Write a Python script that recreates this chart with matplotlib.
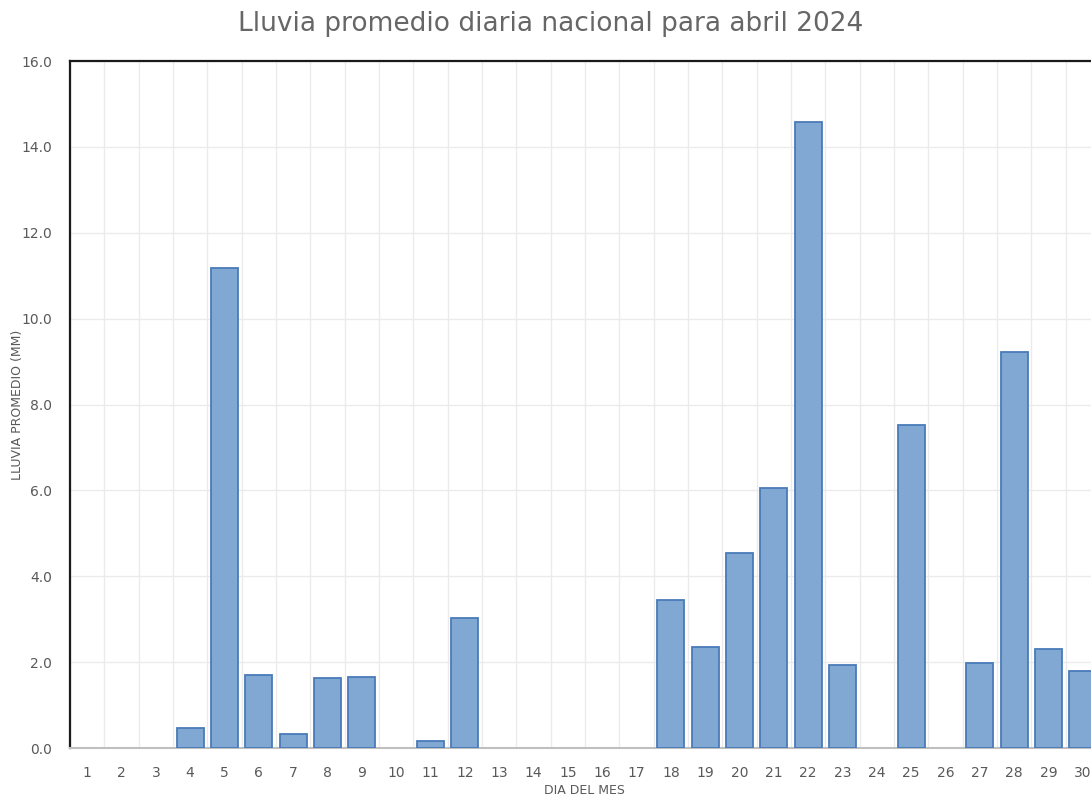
import matplotlib
matplotlib.use("Agg")
import matplotlib.pyplot as plt
from matplotlib.ticker import FormatStrFormatter, MultipleLocator

days = list(range(1, 31))
rain_mm = [0, 0, 0, 0.47, 11.18, 1.70, 0.33, 1.64, 1.66, 0,
           0.16, 3.03, 0, 0, 0, 0, 0, 3.45, 2.36, 4.54,
           6.06, 14.58, 1.93, 0, 7.53, 0, 1.98, 9.22, 2.31, 1.80]

title = "Lluvia promedio diaria nacional para abril 2024"
xlabel = "DIA DEL MES"
ylabel = "LLUVIA PROMEDIO (MM)"

text_gray = "#595959"

fig = plt.figure(figsize=(10.91, 7.98), dpi=100)
ax = fig.add_axes([70 / 1091, 50 / 798, 1030 / 1091, 687 / 798])

# no outline on the dry days, like the original
edge_widths = [1.3 if v > 0 else 0 for v in rain_mm]
ax.bar(days, rain_mm, width=0.79, color="#81a7d3", edgecolor="#4a7bb9",
       linewidth=edge_widths, zorder=3)

ax.set_xlim(0.5, 30.5)
ax.set_ylim(0, 16)
ax.yaxis.set_major_locator(MultipleLocator(2))
ax.yaxis.set_major_formatter(FormatStrFormatter("%.1f"))
ax.set_xticks(days)
ax.set_xticks([d + 0.5 for d in range(0, 31)], minor=True)

ax.grid(True, axis="y", which="major", color="#ebebeb", linewidth=1, zorder=0)
ax.grid(True, axis="x", which="minor", color="#ebebeb", linewidth=1, zorder=0)
ax.tick_params(axis="both", which="both", length=0, colors=text_gray,
               labelsize=10)
ax.tick_params(axis="x", pad=13)
ax.tick_params(axis="y", pad=13)

for side in ["left", "top"]:
    ax.spines[side].set_color("#1a1a1a")
    ax.spines[side].set_linewidth(1.6)
ax.spines["bottom"].set_color("#bfbfbf")
ax.spines["bottom"].set_linewidth(1.5)
ax.spines["right"].set_visible(False)

ax.set_xlabel(xlabel, fontsize=9, color=text_gray)
ax.set_ylabel(ylabel, fontsize=9, color=text_gray)
ax.xaxis.set_label_coords(514 / 1030, -42 / 687)
ax.yaxis.set_label_coords(-52 / 1030, 0.5)
ax.xaxis.label.set_va("center")
ax.yaxis.label.set_va("center")

fig.text(551 / 1091, 1 - 24 / 798, title, ha="center", va="center",
         fontsize=19, color="#666666", family="DejaVu Sans")

fig.savefig("out.png", dpi=100)
plt.close(fig)
